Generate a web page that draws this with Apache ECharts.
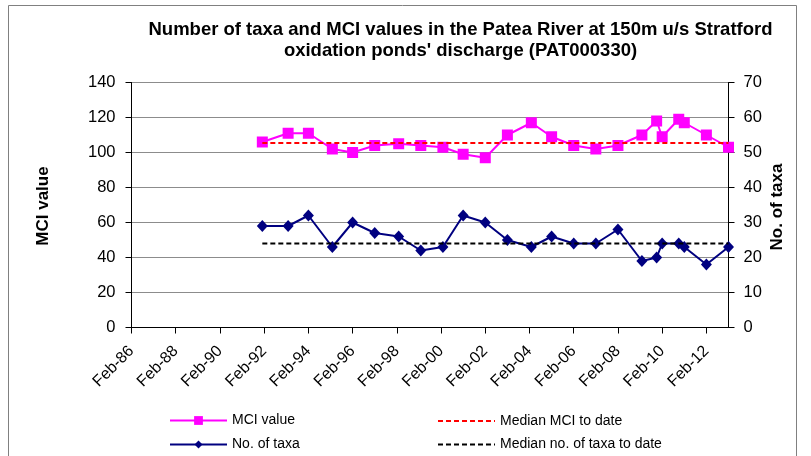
<!DOCTYPE html>
<html>
<head>
<meta charset="utf-8">
<script src="https://cdn.jsdelivr.net/npm/echarts@6/dist/echarts.min.js"></script>
<style>
html,body{margin:0;padding:0;background:#fff;}
#chart{width:811px;height:456px;}
</style>
</head>
<body>
<div id="chart"></div>
<script>
// ---- data ----
var sampleDates = ['1992-01','1993-03','1994-02','1995-03','1996-02','1997-02','1998-03','1999-03',
  '2000-03','2001-02','2002-02','2003-02','2004-03','2005-02','2006-02','2007-02','2008-02',
  '2009-03','2009-11','2010-02','2010-11','2011-02','2012-02','2013-02'];
var mciValues = [106,111,111,102,100,104,105,104,103,99,97,110,117,109,104,102,104,110,118,109,119,117,110,103];
var taxaValues = [29,29,32,23,30,27,26,22,23,32,30,25,23,26,24,24,28,19,20,24,24,23,18,23];
var medianMCI = 105.5;
var medianTaxa = 24;
var xTickLabels = ['Feb-86','Feb-88','Feb-90','Feb-92','Feb-94','Feb-96','Feb-98','Feb-00','Feb-02','Feb-04','Feb-06','Feb-08','Feb-10','Feb-12'];
var seriesNames = ['MCI value','No. of taxa','Median MCI to date','Median no. of taxa to date'];

// months since Feb-1986
function monthIndex(s){ var p=s.split('-'); return (parseInt(p[0],10)-1986)*12 + (parseInt(p[1],10)-2); }
var xs = sampleDates.map(monthIndex);
var font = "'Liberation Sans', Arial, sans-serif";

function oneLegend(name, left, top, h, hideSymbol){
  var item = {name:name};
  if (hideSymbol) item.itemStyle = {opacity:0};
  return {
    data:[item], left:left, top:top, padding:0, orient:'horizontal',
    itemWidth:57, itemHeight:h, itemGap:0, selectedMode:false,
    textStyle:{fontSize:14, color:'#000', fontFamily:font, lineHeight:h}
  };
}

var chart = echarts.init(document.getElementById('chart'), null, {renderer:'canvas'});
chart.setOption({
  animation:false,
  backgroundColor:'#fff',
  textStyle:{fontFamily:font},
  title:{
    text:'Number of taxa and MCI values in the Patea River at 150m u/s Stratford\noxidation ponds\' discharge (PAT000330)',
    left:455.5, top:14, textAlign:'center',
    textStyle:{fontFamily:font, fontSize:18.5, fontWeight:'bold', color:'#000', lineHeight:21}
  },
  grid:{left:131.5, top:82.5, width:597, height:245, containLabel:false},
  xAxis:{
    type:'value', min:0, max:324, interval:24,
    axisLine:{show:true, onZero:false, lineStyle:{color:'#000', width:1}},
    axisTick:{show:true, length:6, lineStyle:{color:'#000'}},
    splitLine:{show:false},
    axisLabel:{
      rotate:45, margin:21, verticalAlign:'middle', fontSize:16, color:'#000', fontFamily:font, showMaxLabel:false,
      formatter:function(v){ var i=Math.round(v/24); return xTickLabels[i] || ''; }
    }
  },
  yAxis:[{
    type:'value', min:0, max:140, interval:20, position:'left',
    axisLine:{show:true, lineStyle:{color:'#000'}},
    axisTick:{show:true, length:6, lineStyle:{color:'#000'}},
    splitLine:{show:true, lineStyle:{color:'#8c8c8c', width:1}},
    axisLabel:{margin:16, fontSize:16.5, color:'#000', fontFamily:font}
  },{
    type:'value', min:0, max:70, interval:10, position:'right',
    axisLine:{show:true, lineStyle:{color:'#000'}},
    axisTick:{show:true, length:6, lineStyle:{color:'#000'}},
    splitLine:{show:false},
    axisLabel:{margin:15, fontSize:16.5, color:'#000', fontFamily:font}
  }],
  legend:[
    oneLegend(seriesNames[0], 169, 413.5, 11, false),
    oneLegend(seriesNames[1], 169, 437.5, 10, false),
    oneLegend(seriesNames[2], 437, 414, 10, true),
    oneLegend(seriesNames[3], 437, 437.5, 10, true)
  ],
  graphic:[
    {type:'rect', shape:{x:8.5, y:5.5, width:788, height:470}, style:{fill:'none', stroke:'#808080', lineWidth:1}, silent:true},
    {type:'text', x:43, y:206, rotation:Math.PI/2, style:{text:'MCI value', font:'bold 17px '+font, fill:'#000', textAlign:'center', textVerticalAlign:'middle'}},
    {type:'text', x:777, y:207, rotation:Math.PI/2, style:{text:'No. of taxa', font:'bold 17px '+font, fill:'#000', textAlign:'center', textVerticalAlign:'middle'}}
  ],
  series:[{
    name:seriesNames[0], type:'line', yAxisIndex:0,
    data:xs.map(function(x,i){return [x, mciValues[i]];}),
    symbol:'rect', symbolSize:11, color:'#FF00FF',
    lineStyle:{color:'#FF00FF', width:2}, itemStyle:{color:'#FF00FF'}, z:3
  },{
    name:seriesNames[1], type:'line', yAxisIndex:1,
    data:xs.map(function(x,i){return [x, taxaValues[i]];}),
    symbol:'diamond', symbolSize:[11,12], color:'#000080',
    lineStyle:{color:'#000080', width:2}, itemStyle:{color:'#000080'}, z:3
  },{
    name:seriesNames[2], type:'line', yAxisIndex:0,
    data:[[xs[0], medianMCI],[xs[xs.length-1], medianMCI]],
    symbol:'none', color:'#FF0000',
    lineStyle:{color:'#FF0000', width:2, type:[5,3]}, z:4
  },{
    name:seriesNames[3], type:'line', yAxisIndex:1,
    data:[[xs[0], medianTaxa],[xs[xs.length-1], medianTaxa]],
    symbol:'none', color:'#000000',
    lineStyle:{color:'#000000', width:2, type:[5,3]}, z:4
  }]
});
</script>
</body>
</html>
